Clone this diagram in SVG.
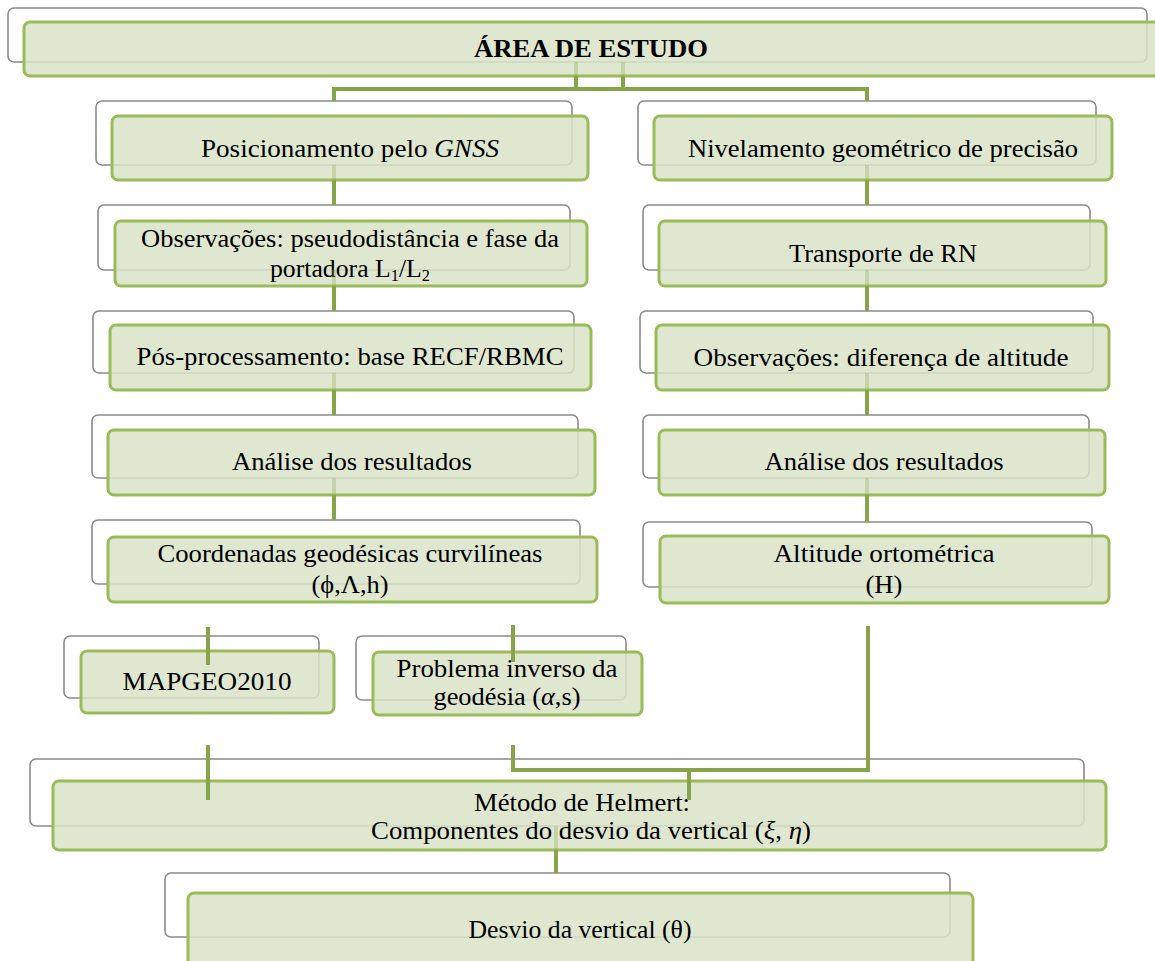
<svg xmlns="http://www.w3.org/2000/svg" width="1155" height="961" viewBox="0 0 1155 961">
<style>
.bk{fill:#ffffff;stroke:#8a8a8a;stroke-width:1.6}
.fr{fill:#d9e3c9;fill-opacity:0.85;stroke:#9bbb59;stroke-width:3}
.t{font-family:'Liberation Serif','DejaVu Serif','Times New Roman',serif;font-size:25px;fill:#000;text-anchor:middle}
.b{font-weight:bold}
.i{font-style:italic}
.c{fill:none;stroke:#88a448;stroke-width:4}
.f{fill:none;stroke:#88a448;stroke-width:4;stroke-opacity:0.3}
</style>
<rect width="1155" height="961" fill="#ffffff"/>
<g id="n-area">
<rect class="bk" x="8" y="8" width="1139" height="54" rx="6"/>
<rect class="fr" x="24" y="22" width="1145" height="54" rx="6"/>
<text class="t b" font-family="Liberation Serif, serif" x="591" y="57" textLength="234" lengthAdjust="spacingAndGlyphs">ÁREA DE ESTUDO</text>
</g>
<g id="n-gnss">
<rect class="bk" x="96" y="101" width="476" height="64" rx="6"/>
<rect class="fr" x="112" y="116" width="476" height="64" rx="6"/>
<text class="t" x="350" y="157" textLength="298" lengthAdjust="spacingAndGlyphs">Posicionamento pelo <tspan class="i">GNSS</tspan></text>
</g>
<g id="n-nivel">
<rect class="bk" x="638" y="101" width="458" height="64" rx="6"/>
<rect class="fr" x="654" y="116" width="458" height="64" rx="6"/>
<text class="t" x="883" y="157" textLength="390" lengthAdjust="spacingAndGlyphs">Nivelamento geométrico de precisão</text>
</g>
<g id="n-obs1">
<rect class="bk" x="98" y="205" width="472" height="65" rx="6"/>
<rect class="fr" x="115" y="221" width="472" height="65" rx="6"/>
<text class="t" x="350" y="247" textLength="418" lengthAdjust="spacingAndGlyphs">Observações: pseudodistância e fase da</text>
<text class="t" x="350" y="277" textLength="160" lengthAdjust="spacingAndGlyphs">portadora L<tspan dy="4" font-size="16">1</tspan><tspan dy="-4">/L</tspan><tspan dy="4" font-size="16">2</tspan></text>
</g>
<g id="n-transp">
<rect class="bk" x="643" y="205" width="447" height="65" rx="6"/>
<rect class="fr" x="659" y="221" width="447" height="65" rx="6"/>
<text class="t" x="883" y="262" textLength="188" lengthAdjust="spacingAndGlyphs">Transporte de RN</text>
</g>
<g id="n-pos">
<rect class="bk" x="93" y="311" width="481" height="62" rx="6"/>
<rect class="fr" x="110" y="325" width="481" height="65" rx="6"/>
<text class="t" x="350" y="365" textLength="427" lengthAdjust="spacingAndGlyphs">Pós-processamento: base RECF/RBMC</text>
</g>
<g id="n-obs2">
<rect class="bk" x="640" y="311" width="453" height="62" rx="6"/>
<rect class="fr" x="656" y="325" width="453" height="65" rx="6"/>
<text class="t" x="881" y="366" textLength="375" lengthAdjust="spacingAndGlyphs">Observações: diferença de altitude</text>
</g>
<g id="n-anal1">
<rect class="bk" x="92" y="415" width="486" height="63" rx="6"/>
<rect class="fr" x="108" y="430" width="487" height="65" rx="6"/>
<text class="t" x="352" y="470" textLength="240" lengthAdjust="spacingAndGlyphs">Análise dos resultados</text>
</g>
<g id="n-anal2">
<rect class="bk" x="643" y="415" width="446" height="63" rx="6"/>
<rect class="fr" x="659" y="430" width="446" height="65" rx="6"/>
<text class="t" x="884" y="470" textLength="239" lengthAdjust="spacingAndGlyphs">Análise dos resultados</text>
</g>
<g id="n-coord">
<rect class="bk" x="92" y="520" width="488" height="64" rx="6"/>
<rect class="fr" x="108" y="537" width="489" height="65" rx="6"/>
<text class="t" x="350" y="562" textLength="385" lengthAdjust="spacingAndGlyphs">Coordenadas geodésicas curvilíneas</text>
<text class="t" x="350" y="593" textLength="77" lengthAdjust="spacingAndGlyphs">(ϕ,Λ,h)</text>
</g>
<g id="n-alt">
<rect class="bk" x="643" y="522" width="449" height="65" rx="6"/>
<rect class="fr" x="660" y="536" width="449" height="67" rx="6"/>
<text class="t" x="884" y="562" textLength="221" lengthAdjust="spacingAndGlyphs">Altitude ortométrica</text>
<text class="t" x="884" y="593" textLength="37" lengthAdjust="spacingAndGlyphs">(H)</text>
</g>
<g id="n-mapgeo">
<rect class="bk" x="64" y="636" width="255" height="62" rx="6"/>
<rect class="fr" x="81" y="651" width="253" height="62" rx="6"/>
<text class="t" x="207" y="690" textLength="169" lengthAdjust="spacingAndGlyphs">MAPGEO2010</text>
</g>
<g id="n-probl">
<rect class="bk" x="356" y="636" width="270" height="64" rx="6"/>
<rect class="fr" x="373" y="652" width="269" height="63" rx="6"/>
<text class="t" x="507" y="677" textLength="221" lengthAdjust="spacingAndGlyphs">Problema inverso da</text>
<text class="t" x="507" y="705" textLength="147" lengthAdjust="spacingAndGlyphs">geodésia (<tspan class="i">α</tspan>,s)</text>
</g>
<g id="n-helmert">
<rect class="bk" x="30" y="759" width="1054" height="67" rx="6"/>
<rect class="fr" x="53" y="781" width="1053" height="69" rx="6"/>
<text class="t" x="582" y="811" textLength="216" lengthAdjust="spacingAndGlyphs">Método de Helmert:</text>
<text class="t" x="591" y="839" textLength="440" lengthAdjust="spacingAndGlyphs">Componentes do desvio da vertical (<tspan class="i">ξ</tspan>, <tspan class="i">η</tspan>)</text>
</g>
<g id="n-desvio">
<rect class="bk" x="165" y="873" width="785" height="64" rx="6"/>
<rect class="fr" x="188" y="893" width="785" height="80" rx="6"/>
<text class="t" x="580" y="938" textLength="223" lengthAdjust="spacingAndGlyphs">Desvio da vertical (θ)</text>
</g>
<g id="connectors">
<path class="f" d="M576 62V76M623 62V76"/>
<path class="c" d="M576 76V89M623 76V89M332 89H869M334 87V101M867 87V101"/>
<path class="f" d="M334 165V180M334 270V286M334 373V390M334 478V495M867 165V180M867 270V286M867 373V390M867 478V495M556 826V850"/>
<path class="c" d="M334 180V205M334 286V311M334 390V415M334 495V520M867 180V205M867 286V311M867 390V415M867 495V522"/>
<path class="c" d="M208 627V665M513 625V662M208 745V800M513 745V770H868M868 626V772M689 770V800M556 850V873"/>
</g>
</svg>
